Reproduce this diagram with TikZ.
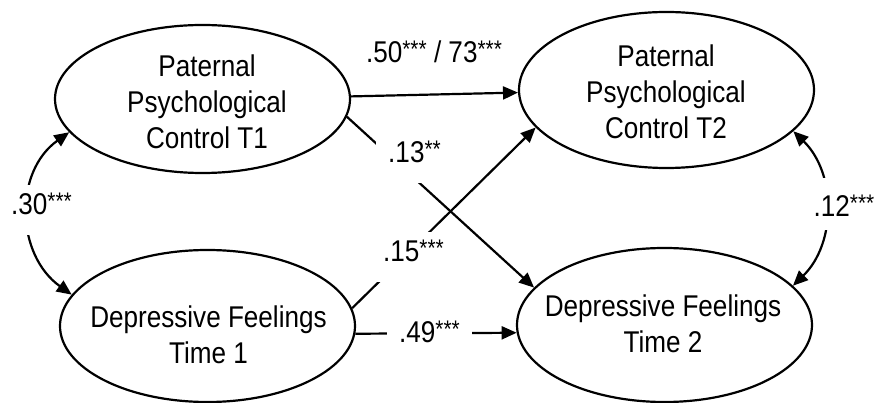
\documentclass[tikz,border=0pt]{standalone}
\usepackage{fontspec}
\setmainfont{Liberation Sans}[FakeStretch=0.87]
\usetikzlibrary{arrows.meta,shapes.geometric}
\newcommand{\sig}[1]{\raisebox{5pt}{\fontsize{24}{24}\selectfont #1}}
\begin{document}
\begin{tikzpicture}[x=1pt,y=1pt,
  lat/.style={ellipse, draw, line width=2.2pt, inner sep=0pt, minimum width=295pt},
  txt/.style={align=center, font=\fontsize{30}{36}\selectfont, inner sep=0pt},
  regpath/.style={line width=2.2pt, -{Triangle[length=15pt,width=13pt]}},
  covpath/.style={line width=2.2pt, {Triangle[length=15pt,width=13pt]}-{Triangle[length=15pt,width=13pt]}},
  coef/.style={font=\fontsize{30}{36}\selectfont, fill=white, inner xsep=12pt, inner ysep=0pt,
    text height=30pt, text depth=20pt, anchor=base}]
\useasboundingbox (0,0) rectangle (876,-403);
% latent variables
\node[lat, minimum height=148pt] (pc1) at (202.5,-99) {};
\node[lat, minimum height=156pt] (pc2) at (666.5,-90) {};
\node[lat, minimum height=152pt] (df1) at (207.5,-326) {};
\node[lat, minimum height=154pt] (df2) at (664.5,-325) {};
\node[txt] (pc1t) at (207,-101.3) {Paternal\\Psychological\\Control T1};
\node[txt] (pc2t) at (666,-91.5) {Paternal\\Psychological\\Control T2};
\node[txt] (df1t) at (208.5,-334.8) {Depressive Feelings\\Time 1};
\node[txt] (df2t) at (663,-323.3) {Depressive Feelings\\Time 2};
% paths
\draw[regpath] (pc1.1.94) -- (pc2.181.55);
\draw[regpath] (pc1.-7.2) -- (df2.164.17);
\draw[regpath] (df1.7.1) -- (pc2.196);
\draw[regpath] (df1.-3.5) -- (df2.183.9);
\draw[covpath] (pc1.194.6) to[out=-144.5,in=144.5,looseness=1.08] (df1.167.9);
\draw[covpath] (pc2.-18.9) to[out=-44.3,in=44.3,looseness=1.0] (df2.17);
% coefficients
\node[coef, fill=none] (c50) at (434,-63) {.50\sig{***} / 73\sig{***}};
\node[coef] (c13) at (414.5,-163) {.13\sig{**}};
\node[coef] (c15) at (413.5,-262) {.15\sig{***}};
\node[coef] (c49) at (429.5,-343) {.49\sig{***}};
\node[coef] (c30) at (41.5,-215) {.30\sig{***}};
\node[coef, inner xsep=2pt, text height=39pt, text depth=13pt] (c12) at (844,-217) {.12\sig{***}};
\end{tikzpicture}
\end{document}
